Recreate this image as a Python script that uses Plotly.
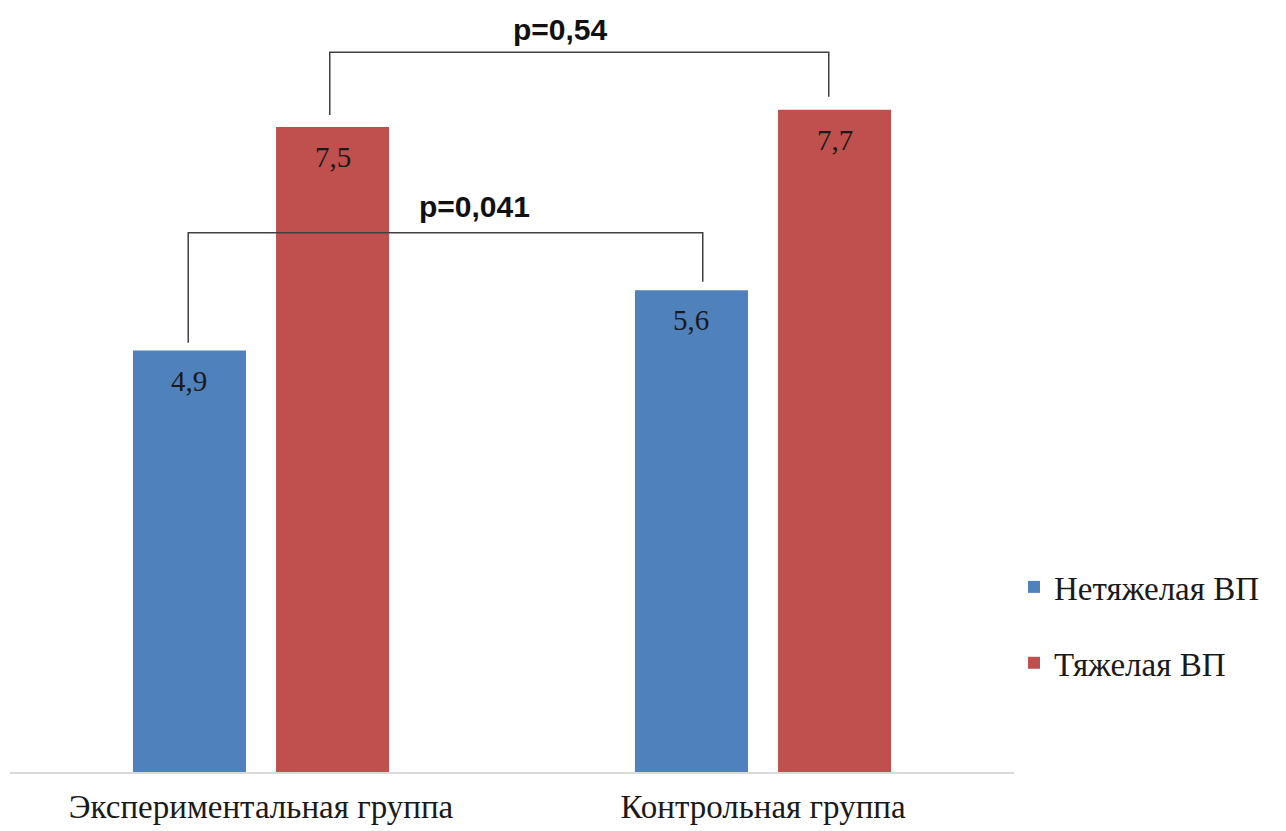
import plotly.graph_objects as go

categories = ["Экспериментальная группа", "Контрольная группа"]
series_names = ["Нетяжелая ВП", "Тяжелая ВП"]
mild_values = [4.9, 5.6]
severe_values = [7.5, 7.7]
value_labels_mild = ["4,9", "5,6"]
value_labels_severe = ["7,5", "7,7"]
p_labels = ["p=0,54", "p=0,041"]

colors = ["#4F81BD", "#C0504D"]
serif = "Liberation Serif, Times New Roman, serif"
sans = "Liberation Sans, Arial, sans-serif"

fig = go.Figure()
for name, vals, col, grp in [
    (series_names[0], mild_values, colors[0], "a"),
    (series_names[1], severe_values, colors[1], "b"),
]:
    fig.add_trace(go.Bar(
        x=categories, y=vals, name=name, marker_color=col,
        marker_line_width=0, legendgroup=grp, hoverinfo="x+y",
    ))

# value labels inside bars, near the top
for offs, vals, labs in [(-0.143, mild_values, value_labels_mild),
                         (0.143, severe_values, value_labels_severe)]:
    for i, (v, t) in enumerate(zip(vals, labs)):
        fig.add_annotation(x=i + offs, y=v, xref="x", yref="y", text=t,
                           showarrow=False, yanchor="middle", yshift=-30,
                           font=dict(family=serif, size=29, color="#1a1a1a"))

line_col = "#404040"

def bracket(x0, x1, y0, y1, ytop):
    fig.add_shape(type="path",
                  path=f"M {x0} {y0} L {x0} {ytop} L {x1} {ytop} L {x1} {y1}",
                  xref="x", yref="y", line=dict(color=line_col, width=1.5))

# bracket between severe bars (p=0,54)
bracket(0.137, 1.131, severe_values[0] + 0.14, severe_values[1] + 0.15, 8.37)
# bracket between mild bars (p=0,041)
bracket(-0.145, 0.88, mild_values[0] + 0.09, mild_values[1] + 0.10, 6.27)

fig.add_annotation(x=0.596, y=8.63, xref="x", yref="y", text=f"<b>{p_labels[0]}</b>",
                   showarrow=False, font=dict(family=sans, size=30, color="#111"))
fig.add_annotation(x=0.426, y=6.57, xref="x", yref="y", text=f"<b>{p_labels[1]}</b>",
                   showarrow=False, font=dict(family=sans, size=30, color="#111"))

fig.update_layout(
    width=1270, height=823,
    margin=dict(l=2, r=264, t=2, b=59),
    paper_bgcolor="white", plot_bgcolor="white",
    barmode="group", bargap=0.43, bargroupgap=0.21,
    showlegend=True,
    legend=dict(x=1.0, xanchor="left", y=0.193, yanchor="middle",
                font=dict(family=serif, size=33, color="#1a1a1a"),
                tracegroupgap=30, itemclick=False),
    xaxis=dict(showline=True, linecolor="#D9D9D9", linewidth=1.5,
               ticks="outside", ticklen=5, tickcolor="rgba(0,0,0,0)",
               tickfont=dict(family=serif, size=33, color="#1a1a1a"),
               range=[-0.5, 1.5], automargin=False),
    yaxis=dict(range=[0, 8.86], showgrid=False, showticklabels=False,
               zeroline=False, showline=False, automargin=False),
)

fig.write_html("out.html")
